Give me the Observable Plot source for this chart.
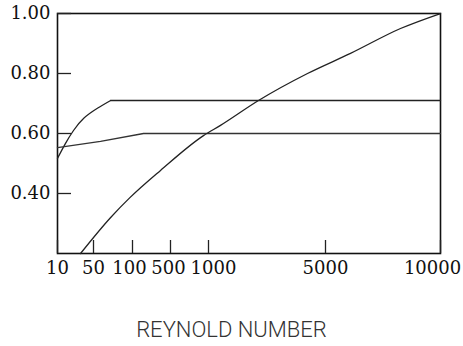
<!DOCTYPE html>
<html>
<head>
<meta charset="utf-8">
<script src="https://cdn.jsdelivr.net/npm/d3@7"></script>
<script src="https://cdn.jsdelivr.net/npm/@observablehq/plot@0.6"></script>
<style>
  html, body { margin: 0; padding: 0; background: #fff; }
  #chart { width: 463px; }
  #chart svg text { -webkit-text-stroke: 0.35px #111; }
  #title { width: 463px; text-align: center; font-family: Roboto, sans-serif; font-weight: 300;
           font-size: 22px; line-height: 22px; color: #333; margin-top: 29px; }
</style>
</head>
<body>
<div id="chart"></div>
<div id="title">REYNOLD NUMBER</div>
<script>
// tick labels
const xTicks = [10, 50, 100, 500, 1000, 5000, 10000];
const yTicks = [0.4, 0.6, 0.8, 1.0];

// curve A: rises then plateaus at 0.71
const aRe = [10, 18.9, 27.8, 38.9, 55, 72, 10000];
const aVal = [0.517, 0.567, 0.61, 0.65, 0.684, 0.71, 0.71];

// curve B: gentle rise then plateau at 0.60
const bRe = [10, 59, 216, 10000];
const bVal = [0.553, 0.574, 0.60, 0.60];

// curve C: steady rise to 1.00
const cRe = [35.6, 72, 97, 395, 934, 1410, 2709, 4385, 6087, 8261, 10000];
const cVal = [0.20, 0.32, 0.387, 0.477, 0.593, 0.627, 0.71, 0.80, 0.867, 0.95, 1.00];

const toRows = (xs, ys) => xs.map((x, i) => ({x, y: ys[i]}));
const A = toRows(aRe, aVal);
const B = toRows(bRe, bVal);
const C = toRows(cRe, cVal);
const aCorner = A.length - 2; // where the rise meets the plateau

const serif = "DejaVu Serif, serif";
const FS = 18;
const fmtX = d => String(d);
const labelOpts = {frameAnchor: "bottom", dy: 8, lineAnchor: "top", fontSize: FS, fill: "#111", text: fmtX};

const chart = Plot.plot({
  width: 463,
  height: 290,
  marginLeft: 57,
  marginRight: 23,
  marginTop: 13,
  marginBottom: 37,
  style: {fontFamily: serif, fontSize: FS + "px", color: "#111", background: "#fff"},
  x: {type: "linear", domain: xTicks, range: [57, 93, 132, 170, 208, 325, 440], axis: null},
  y: {domain: [0.2, 1.0]},
  marks: [
    Plot.frame({stroke: "#111", strokeWidth: 1.6}),
    // y labels
    Plot.axisY({ticks: yTicks, tickSize: 0, tickPadding: 7, tickFormat: d3.format(".2f"), label: null, fontSize: FS}),
    // x labels (a few nudged apart as in the original print)
    Plot.text([10, 50, 5000], {x: d => d, ...labelOpts}),
    Plot.text([100], {x: d => d, ...labelOpts, dx: -3}),
    Plot.text([500], {x: d => d, ...labelOpts, dx: -2}),
    Plot.text([1000], {x: d => d, ...labelOpts, dx: 5}),
    Plot.text([10000], {x: d => d, ...labelOpts, dx: -8}),
    // inward ticks
    Plot.axisY({ticks: yTicks, tickSize: 14, dx: 14, tickFormat: () => "", label: null, stroke: "#222", strokeWidth: 1.3}),
    Plot.axisX({ticks: xTicks, tickSize: 13, dy: -13, tickFormat: () => "", label: null, stroke: "#222", strokeWidth: 1.3}),
    Plot.line(A.slice(0, aCorner + 1), {x: "x", y: "y", stroke: "#222", strokeWidth: 1.3, curve: "natural"}),
    Plot.line(A.slice(aCorner), {x: "x", y: "y", stroke: "#222", strokeWidth: 1.3, curve: "linear"}),
    Plot.line(B, {x: "x", y: "y", stroke: "#333", strokeWidth: 1.3, curve: "linear"}),
    Plot.line(C, {x: "x", y: "y", stroke: "#222", strokeWidth: 1.3, curve: "monotone-x"})
  ]
});
document.getElementById("chart").appendChild(chart);
</script>
</body>
</html>
